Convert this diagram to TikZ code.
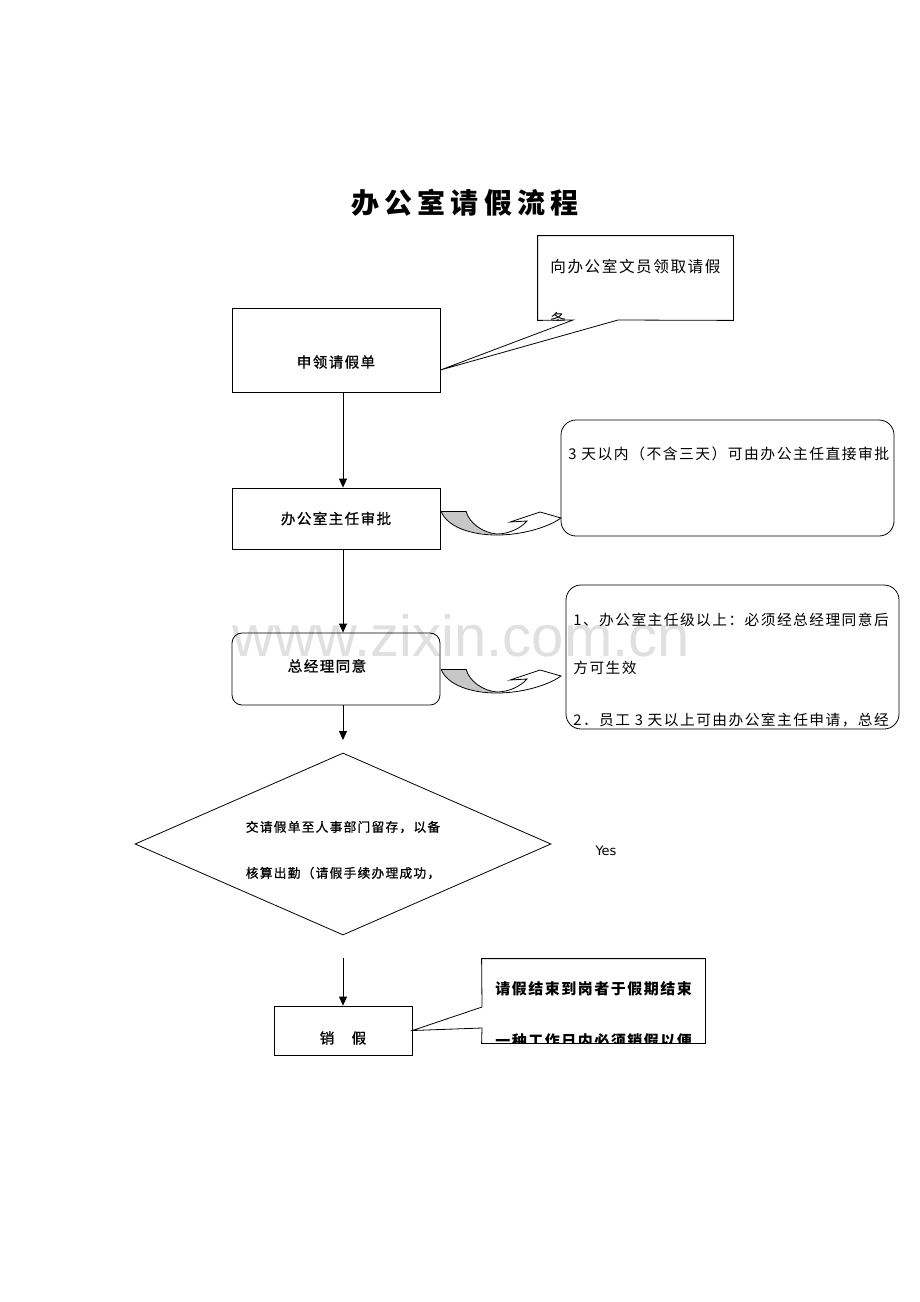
\documentclass[tikz,border=0pt]{standalone}
\usepackage{fontspec}
\setmainfont{Noto Sans CJK SC}
\newfontfamily\notefont{Noto Sans CJK SC}[LetterSpace=10]
\newfontfamily\boxfont{Noto Sans CJK SC}[LetterSpace=10, FakeBold=1]
\newfontfamily\titlefont{Noto Sans CJK SC}[LetterSpace=18]
\newfontfamily\latinfont{DejaVu Sans}
\newfontfamily\markfont{Liberation Sans}
\usetikzlibrary{shapes.geometric, arrows.meta}

\begin{document}
\begin{tikzpicture}[x=1pt, y=-1pt, line width=0.8pt,
  box/.style={draw, minimum width=208, inner sep=0, font=\boxfont\fontsize{14.5}{14.5}\selectfont},
  flow/.style={-{Triangle[length=9pt,width=8pt]}},
  line/.style={anchor=west, inner sep=0, font=\notefont\fontsize{14.7}{14.7}\selectfont}]
\useasboundingbox (0,0) rectangle (920,1302);

\node[text=black!12, font=\markfont\fontsize{58}{58}\selectfont] (mark) at (461,636) {www.zixin.com.cn};
\node[font=\titlefont\bfseries\fontsize{28}{28}\selectfont] (title) at (465,203) {办公室请假流程};

% main flow
\node[box, minimum height=84, label={[yshift=-12pt, box, draw=none, minimum width=0]center:申领请假单}] (1) at (336,350) {};
\node[box, minimum height=61] (2) at (336,518.5) {办公室主任审批};
\node[box, minimum height=72, rounded corners=10, label={[xshift=-9pt, yshift=3pt, box, draw=none, minimum width=0]center:总经理同意}] (3) at (336,669) {};
\node[draw, diamond, minimum width=416, minimum height=182, aspect=2.3, inner sep=0,
  label={[yshift=-6pt, align=center, inner sep=0, font=\boxfont\fontsize{12.7}{46}\selectfont]center:交请假单至人事部门留存，以备\\核算出勤（请假手续办理成功，}] (4) at (343,844) {};
\node[box, minimum width=138, minimum height=49, label={[yshift=-7.5pt, box, draw=none, minimum width=0]center:销　假}] (5) at (343,1030.5) {};
\node[inner sep=0, font=\latinfont\fontsize{13}{13}\selectfont] (yes) at (606,851) {Yes};

\coordinate (a) at (343,740);
\coordinate (b) at (343,958);
\draw[flow] (1.south -| 4) -- (2.north -| 4);
\draw[flow] (2.south -| 4) -- (3.north -| 4);
\draw[flow] (3.south -| 4) -- (a);
\draw[flow] (b) -- (5);

% note 1
\node[minimum width=195, minimum height=84, inner sep=0] (n1) at (635.5,278) {};
\draw (n1.south west) -- (n1.north west) -- (n1.north east) -- (n1.south east) -- (618,320)
  -- ([yshift=-20pt]1.east) -- (573,320) -- cycle;
\begin{scope}
\clip (n1.south west) rectangle (n1.north east);
\node[line, font=\notefont\fontsize{15.6}{15.6}\selectfont] (n1a) at (550,267) {向办公室文员领取请假};
\node[line, font=\notefont\fontsize{15.6}{15.6}\selectfont] (n1b) at (550,320) {条};
\end{scope}

% note 2
\node[draw, rounded corners=15, minimum width=333, minimum height=116, inner sep=0] (n2) at (727.5,478) {};
\node[line, font=\notefont\fontsize{14.8}{14.8}\selectfont] (n2a) at (568,454) {3 天以内（不含三天）可由办公主任直接审批};

% note 3
\node[draw, rounded corners=15, minimum width=333, minimum height=144, inner sep=0] (n3) at (732.5,657) {};
\begin{scope}
\clip[rounded corners=15] (566,585) rectangle (899,729);
\node[line] (n3a) at (573,620) {1、办公室主任级以上：必须经总经理同意后};
\node[line] (n3b) at (573,668) {方可生效};
\node[line] (n3c) at (573,720) {2．员工 3 天以上可由办公室主任申请，总经};
\end{scope}

% note 4
\node[minimum width=223, minimum height=84, inner sep=0] (n4) at (593.5,1001) {};
\draw (n4.south west) -- (482,1028) -- (5.east) -- (482,1007) -- (n4.north west)
  -- (n4.north east) -- (n4.south east) -- cycle;
\begin{scope}
\clip (n4.south west) rectangle (n4.north east);
\node[line, font=\notefont\bfseries\fontsize{15}{15}\selectfont] (n4a) at (495,989) {请假结束到岗者于假期结束};
\node[line, font=\notefont\bfseries\fontsize{15}{15}\selectfont] (n4b) at (495,1041) {一种工作日内必须销假以便};
\end{scope}

% bent arrows to notes 2 and 3
\foreach \y in {511, 669} {
  \begin{scope}[shift={(441,\y)}]
  \fill[black!22] (0,0) -- (25,0) .. controls (28,12) and (42,22) .. (56,23)
    .. controls (30,24) and (6,16) .. (0,0) -- cycle;
  \draw (0,0) -- (25,0);
  \draw (0,0) .. controls (6,16) and (30,24) .. (56,24) .. controls (80,24) and (104,17) .. (117,9);
  \draw[line join=miter] (25,0) .. controls (28,12) and (42,22) .. (56,23) .. controls (68,23) and (80,17) .. (86,10)
    -- (69,11) -- (99,1) -- (120,7) -- (117,9);
  \end{scope}
}
\end{tikzpicture}
\end{document}
